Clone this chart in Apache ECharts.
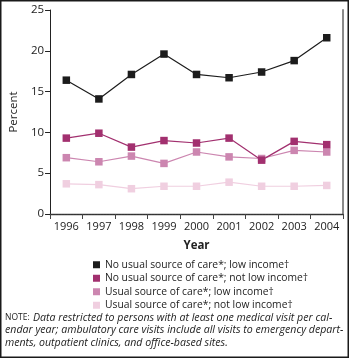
<!DOCTYPE html>
<html>
<head>
<meta charset="utf-8">
<script src="https://cdn.jsdelivr.net/npm/echarts@6/dist/echarts.min.js"></script>
<style>
  html, body { margin: 0; padding: 0; background: #fff; }
  #chart { width: 350px; height: 359px; }
</style>
</head>
<body>
<div id="chart"></div>
<script>
// values
const years = ['1996', '1997', '1998', '1999', '2000', '2001', '2002', '2003', '2004'];
const noSourceLow = [16.4, 14.1, 17.1, 19.6, 17.1, 16.7, 17.4, 18.8, 21.6];
const noSourceNotLow = [9.3, 9.9, 8.2, 9.0, 8.7, 9.3, 6.6, 8.9, 8.5];
const sourceLow = [6.9, 6.4, 7.1, 6.2, 7.6, 7.0, 6.8, 7.8, 7.6];
const sourceNotLow = [3.7, 3.6, 3.1, 3.4, 3.4, 3.9, 3.4, 3.4, 3.5];
const seriesNames = [
    'No usual source of care*; low income\u2020',
    'No usual source of care*; not low income\u2020',
    'Usual source of care*; low income\u2020',
    'Usual source of care*; not low income\u2020'
];
const colors = ['#1c1c1c', '#a2306f', '#cc86b0', '#f0cfe0'];
const noteLines = [
    'Data restricted to persons with at least one medical visit per cal-',
    'endar year; ambulatory care visits include all visits to emergency depart-',
    'ments, outpatient clinics, and office-based sites.'
];

const font = '"Open Sans", "Noto Sans", sans-serif';

function makeLine(name, data, color) {
    return {
        name: name,
        type: 'line',
        data: data,
        symbol: 'rect',
        symbolSize: 7.5,
        color: color,
        lineStyle: { width: 1.2, color: color },
        itemStyle: { color: color },
        animation: false
    };
}

window.onload = function () {
    const chart = echarts.init(document.getElementById('chart'));
    const option = {
        textStyle: { fontFamily: font },
        grid: { left: 43, right: 7, top: 10, bottom: 145 },
        legend: {
            orient: 'vertical',
            left: 88,
            top: 253,
            icon: 'rect',
            itemWidth: 7,
            itemHeight: 7,
            itemGap: 0,
            textStyle: { fontSize: 10.3, color: '#222', lineHeight: 13.5, fontFamily: font },
            data: seriesNames
        },
        xAxis: [
            {
                type: 'category',
                data: years,
                boundaryGap: true,
                name: 'Year',
                nameLocation: 'middle',
                nameGap: 26,
                nameTextStyle: { fontSize: 11.5, fontWeight: 'bold', color: '#222' },
                axisLine: { lineStyle: { color: '#444', width: 1.3 } },
                axisTick: { show: true, length: 5, lineStyle: { color: '#444' } },
                axisLabel: { fontSize: 11, color: '#222', margin: 7, interval: 0 }
            },
            {
                type: 'category',
                data: years,
                position: 'top',
                axisLine: { lineStyle: { color: '#333', width: 1, type: [2, 1] } },
                axisTick: { show: false },
                axisLabel: { show: false }
            }
        ],
        yAxis: [
            {
                type: 'value',
                min: 0,
                max: 25,
                interval: 5,
                name: 'Percent',
                nameLocation: 'middle',
                nameGap: 28,
                nameTextStyle: { fontSize: 11.5, color: '#222' },
                axisLine: { show: true, lineStyle: { color: '#222', width: 1 } },
                axisTick: { show: true, length: 5, lineStyle: { color: '#222' } },
                axisLabel: { fontSize: 11.5, color: '#222', margin: 6 },
                splitLine: { show: false }
            },
            {
                type: 'value',
                min: 0,
                max: 25,
                interval: 5,
                position: 'right',
                axisLine: { show: true, lineStyle: { color: '#8a8a8a', width: 2 } },
                axisTick: { show: false },
                axisLabel: { show: false },
                splitLine: { show: false }
            }
        ],
        series: [
            makeLine(seriesNames[3], sourceNotLow, colors[3]),
            makeLine(seriesNames[2], sourceLow, colors[2]),
            makeLine(seriesNames[1], noSourceNotLow, colors[1]),
            makeLine(seriesNames[0], noSourceLow, colors[0])
        ],
        graphic: [
            {
                type: 'rect',
                shape: { x: 0.75, y: 0.75, width: 347.5, height: 356.5 },
                style: { fill: 'none', stroke: '#1a1a1a', lineWidth: 1.5 },
                silent: true
            },
            {
                type: 'text',
                left: 5,
                top: 312,
                style: {
                    rich: {
                        sc: { fontSize: 8.5, fontFamily: font, fill: '#222' },
                        it: { fontSize: 10.6, fontStyle: 'italic', fontFamily: font, fill: '#222' }
                    },
                    text: '{sc|NOTE:} {it|' + noteLines[0] + '}'
                }
            },
            {
                type: 'text',
                left: 5,
                top: 324.5,
                style: { text: noteLines[1], fontSize: 10.6, fontStyle: 'italic', fontFamily: font, fill: '#222' }
            },
            {
                type: 'text',
                left: 5,
                top: 337,
                style: { text: noteLines[2], fontSize: 10.6, fontStyle: 'italic', fontFamily: font, fill: '#222' }
            }
        ]
    };
    chart.setOption(option);
};
</script>
</body>
</html>
